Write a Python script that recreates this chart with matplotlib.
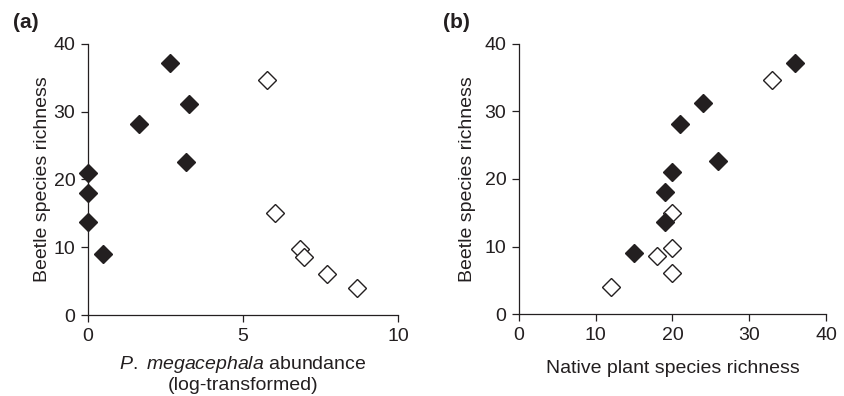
import matplotlib.pyplot as plt

plt.rcParams['font.family'] = ['Liberation Sans', 'DejaVu Sans']
plt.rcParams['mathtext.fontset'] = 'custom'
plt.rcParams['mathtext.it'] = 'Liberation Sans:italic'
plt.rcParams['mathtext.rm'] = 'Liberation Sans'

# panel (a): P. megacephala abundance (log) vs beetle richness
abund_filled = [2.65, 3.27, 1.66, 3.18, 0.0, 0.0, 0.0, 0.5]
abund_open = [5.78, 6.04, 6.84, 6.97, 7.70, 8.67]
# panel (b): native plant richness
plant_filled = [36, 24, 21, 26, 20, 19, 19, 15]
plant_open = [33, 20, 20, 18, 20, 12]
# beetle species richness
beetle_filled = [37.2, 31.2, 28.2, 22.6, 21.0, 18.0, 13.7, 9.0]
beetle_open = [34.7, 15.0, 9.75, 8.6, 6.05, 4.0]

ink = '#231f20'
fs = 14
fig = plt.figure(figsize=(8.45, 3.96), dpi=100)
ax1 = fig.add_axes([0.104, 0.2045, 0.367, 0.6845])
ax2 = fig.add_axes([0.614, 0.207, 0.3635, 0.682])

def style(ax, xmax, xticks, ypad):
    ax.set_xlim(0, xmax)
    ax.set_ylim(0, 40)
    ax.set_xticks(xticks)
    ax.set_yticks([0, 10, 20, 30, 40])
    for s in ['top', 'right']:
        ax.spines[s].set_visible(False)
    for s in ['left', 'bottom']:
        ax.spines[s].set_color(ink)
        ax.spines[s].set_linewidth(0.9)
    ax.tick_params(direction='out', length=5, width=0.9, color=ink,
                   labelcolor=ink, labelsize=fs, pad=4)
    ax.set_ylabel('Beetle species richness', fontsize=fs, color=ink, labelpad=ypad)

mk = dict(marker='D', ms=9.2, linestyle='none', clip_on=False)

ax1.plot(abund_open, beetle_open, mfc='white', mec=ink, mew=1.0, **mk)
ax1.plot(abund_filled, beetle_filled, mfc=ink, mec=ink, **mk)
style(ax1, 10, [0, 5, 10], 2)
ax1.set_xlabel('$\\it{P.}$ $\\it{megacephala}$ abundance\n(log-transformed)',
               fontsize=fs, color=ink, labelpad=7, linespacing=1.1)

ax2.plot(plant_open, beetle_open, mfc='white', mec=ink, mew=1.0, **mk)
ax2.plot(plant_filled, beetle_filled, mfc=ink, mec=ink, **mk)
style(ax2, 40, [0, 10, 20, 30, 40], 6)
ax2.set_xlabel('Native plant species richness', fontsize=fs, color=ink, labelpad=12)

fig.text(0.015, 0.93, '(a)', fontsize=15, fontweight='bold', color=ink)
fig.text(0.524, 0.93, '(b)', fontsize=15, fontweight='bold', color=ink)

fig.savefig('out.png', dpi=100)
